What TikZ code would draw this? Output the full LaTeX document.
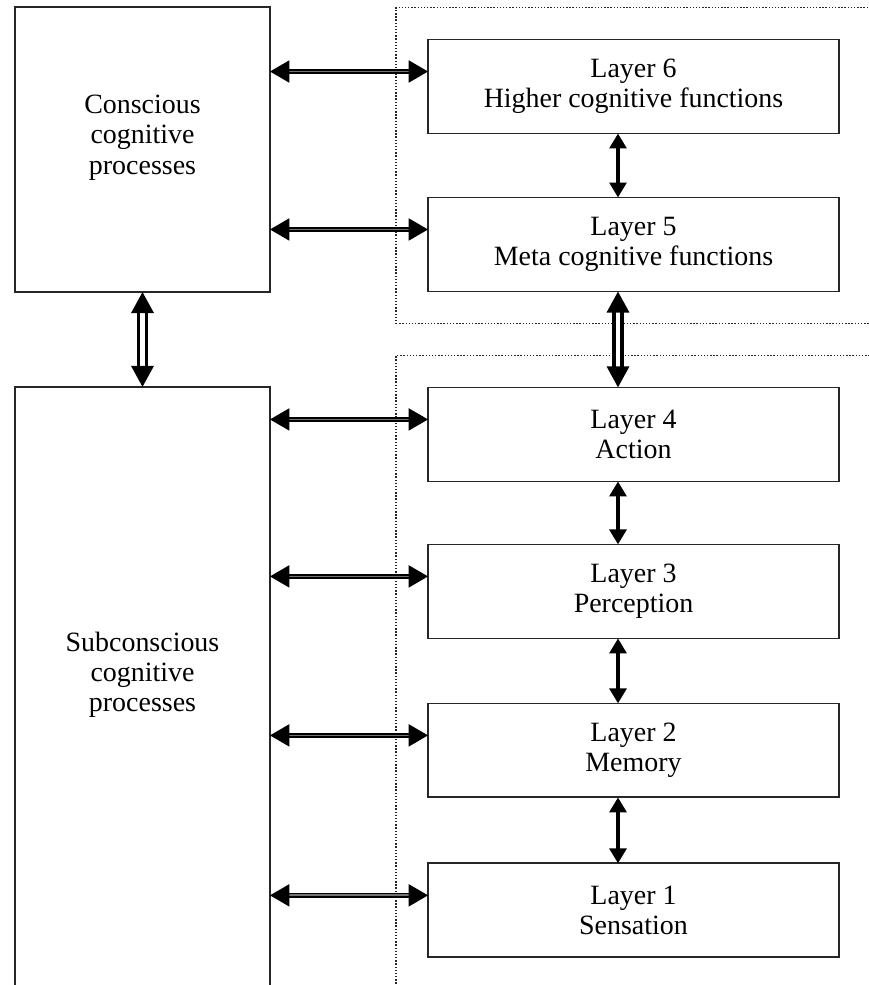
\documentclass[tikz,border=0pt]{standalone}
\usepackage{fontspec}
\setmainfont{Liberation Serif}
\usetikzlibrary{positioning,calc,fit,arrows.meta}

\tikzset{
	layer/.style={draw=black!85, line width=1pt, outer sep=0pt, minimum width=8.22cm, minimum height=1.88cm, align=center, inner sep=2pt},
	big/.style={draw=black!85, line width=1pt, outer sep=0pt, minimum width=5.1cm, align=center, text depth=0.6cm},
	group/.style={draw=black!85, line width=0.8pt, densely dotted, inner sep=0.64cm},
	link/.style={line width=1.1pt, double=black!55, double distance=1pt, {Triangle[length=11pt,width=12.5pt]}-{Triangle[length=11pt,width=12.5pt]}},
	updown/.style={line width=2.2pt, {Triangle[length=8.5pt,width=9.5pt]}-{Triangle[length=8.5pt,width=9.5pt]}},
	wide/.style={line width=2pt, double=white, double distance=2.3pt, {Triangle[length=12pt,width=12.5pt]}-{Triangle[length=12pt,width=12.5pt]}}
}

\begin{document}
\begin{tikzpicture}[x=0.02cm, y=-0.02cm, font=\fontsize{15.9pt}{17.3pt}\selectfont]
	\useasboundingbox (0,0) rectangle (869,985);
	\clip (0,0) rectangle (869,985);
	% left column
	\node[big, minimum height=5.7cm] (con) at (142.5,149.5) {Conscious\\cognitive\\processes};
	\node[big, minimum height=12cm, below=1.9cm of con] (sub) {Subconscious\\cognitive\\processes};
	% layers
	\node[layer] (l6) at (633.5,86.5) {Layer 6\\Higher cognitive functions};
	\node[layer, below=1.28cm of l6] (l5) {Layer 5\\Meta cognitive functions};
	\node[layer, below=1.92cm of l5] (l4) {Layer 4\\Action};
	\node[layer, below=1.26cm of l4] (l3) {Layer 3\\Perception};
	\node[layer, below=1.3cm of l3] (l2) {Layer 2\\Memory};
	\node[layer, below=1.32cm of l2] (l1) {Layer 1\\Sensation};
	\node[group, fit=(l6)(l5)] (upper) {};
	\node[group, fit=(l4)(l1)] (lower) {};

	% arrows
	\coordinate (axis) at (618,0);
	\foreach \a/\b in {6/5,4/3,3/2,2/1}
		\draw[updown] (l\a.south -| axis) -- (l\b.north -| axis);
	\draw[wide] (l5.south -| axis) -- (l4.north -| axis);
	\draw[wide] (con) -- (sub);
	\foreach \l in {6,5} {
		\coordinate (a\l) at ($(l\l.north west)+(0,32)$);
		\draw[link] (con.east |- a\l) -- (a\l);
	}
	\foreach \l in {4,...,1} {
		\coordinate (a\l) at ($(l\l.north west)+(0,32)$);
		\draw[link] (sub.east |- a\l) -- (a\l);
	}
\end{tikzpicture}
\end{document}
